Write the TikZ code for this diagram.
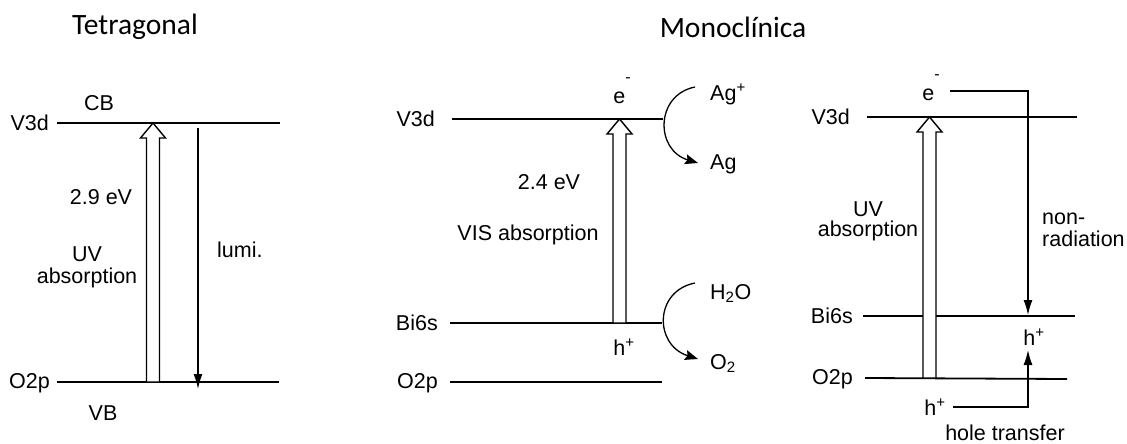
\documentclass[tikz,border=0pt]{standalone}
\usepackage{fontspec}
\setmainfont{Liberation Sans}
\newfontfamily\titlefont{Carlito}
\usepackage{tikz}
\usetikzlibrary{arrows.meta,calc}

% electron with a raised short dash
\newcommand{\eminus}{e\raisebox{0.95em}{\fontsize{16}{16}\selectfont -}}
% hollow absorption arrow from #1 (base) to #2 (tip)
\newcommand{\hollowarrow}[2]{%
	\draw[hollow] ($(#1)+(-6.5,0)$) -- ($(#2)+(-6.5,15)$) -- ($(#2)+(-12.5,15)$)
		-- (#2) -- ($(#2)+(12.5,15)$) -- ($(#2)+(6.5,15)$) -- ($(#1)+(6.5,0)$) -- cycle;}

\begin{document}
\begin{tikzpicture}[
		x=1pt, y=-1pt,
		>=Latex,
		level/.style={
			line width=1.8pt
		},
		lab/.style={
			font=\fontsize{21.5}{22}\selectfont,
			inner sep=0pt
		},
		title/.style={
			font=\titlefont\fontsize{29.5}{32}\selectfont,
			inner sep=0pt
		},
		hollow/.style={
			line width=1.4pt,
			fill=white,
			line join=miter
		},
		trans/.style={
			-{Latex[length=15pt,width=9pt]},
			line width=1.4pt
		},
		react/.style={
			-{Stealth[length=13pt,width=10pt,inset=2pt]},
			line width=1.3pt
		}
	]
	\useasboundingbox (0,0) rectangle (1127,444);
	
	% Titles
	\node[title] (tet) at (135,27) {Tetragonal};
	\node[title] (mono) at (733,27) {Monoclínica};
	
	% Tetragonal levels
	\coordinate (t-v3d-l) at (57,123);
	\coordinate (t-v3d-r) at (280,123);
	\coordinate (t-o2p-l) at (57,382);
	\coordinate (t-o2p-r) at (279,382);
	\draw[level] (t-v3d-l) -- (t-v3d-r);
	\draw[level] (t-o2p-l) -- (t-o2p-r);
	\node[lab, anchor=east] (t-v3d) at (49,123) {V3d};
	\node[lab, anchor=east] (t-o2p) at (50,383) {O2p};
	\node[lab] (t-cb) at (99,103) {CB};
	\node[lab] (t-vb) at (103,413) {VB};
	
	% Tetragonal transitions
	\coordinate (t-tip) at (153,123);
	\coordinate (t-base) at (153,382);
	\hollowarrow{t-base}{t-tip}
	\coordinate (t-lumi-top) at (198,128);
	\coordinate (t-lumi-end) at (198,389);
	\draw[trans] (t-lumi-top) -- (t-lumi-end);
	\node[lab, anchor=west] (t-lumi) at (217,250) {lumi.};
	\node[lab] (t-gap) at (101,197) {2.9 eV};
	\node[lab, align=center] (t-uv) at (87,267) {UV\\absorption};
	
	% Monoclinic (VIS) levels
	\coordinate (m-v3d-l) at (452,119);
	\coordinate (m-v3d-r) at (663,119);
	\coordinate (m-bi6s-l) at (450,323);
	\coordinate (m-bi6s-r) at (662,323);
	\coordinate (m-o2p-l) at (450,382);
	\coordinate (m-o2p-r) at (662,382);
	\draw[level] (m-v3d-l) -- (m-v3d-r);
	\draw[level] (m-bi6s-l) -- (m-bi6s-r);
	\draw[level] (m-o2p-l) -- (m-o2p-r);
	\node[lab, anchor=east] (m-v3d) at (435,119) {V3d};
	\node[lab, anchor=east] (m-bi6s) at (438,323) {Bi6s};
	\node[lab, anchor=east] (m-o2p) at (438,383) {O2p};
	
	% Monoclinic (VIS) transitions
	\coordinate (m-tip) at (619.5,119);
	\coordinate (m-base) at (619.5,323);
	\hollowarrow{m-base}{m-tip}
	\node[lab, anchor=base] (m-e) at (622,103) {\eminus};
	\node[lab, anchor=base] (m-h) at (624,355) {h\textsuperscript{+}};
	\node[lab] (m-gap) at (549,182) {2.4 eV};
	\node[lab] (m-vis) at (528,235) {VIS absorption};
	
	% Surface reactions
	\node[lab, anchor=base west] (agp) at (710,100) {Ag\textsuperscript{+}};
	\node[lab, anchor=base west] (ag) at (710,169) {Ag};
	\node[lab, anchor=base west] (h2o) at (710,299) {H\textsubscript{2}O};
	\node[lab, anchor=base west] (o2) at (710,369) {O\textsubscript{2}};
	\coordinate (ag-from) at (695,87);
	\coordinate (ag-to) at (698,163);
	\coordinate (o2-from) at (695,283);
	\coordinate (o2-to) at (698,359);
	\draw[react] (ag-from) .. controls (655,95) and (655,150) .. (ag-to);
	\draw[react] (o2-from) .. controls (654,291) and (654,345) .. (o2-to);
	
	% Monoclinic (UV) levels
	\coordinate (u-v3d-l) at (867,117);
	\coordinate (u-v3d-r) at (1077,117);
	\coordinate (u-bi6s-l) at (863,316);
	\coordinate (u-bi6s-r) at (1075,316);
	\coordinate (u-o2p-l) at (865,378);
	\coordinate (u-o2p-r) at (1067,379);
	\draw[level] (u-v3d-l) -- (u-v3d-r);
	\draw[level] (u-bi6s-l) -- (u-bi6s-r);
	\draw[level] (u-o2p-l) -- (u-o2p-r);
	\node[lab, anchor=east] (u-v3d) at (850,117) {V3d};
	\node[lab, anchor=east] (u-bi6s) at (853,316) {Bi6s};
	\node[lab, anchor=east] (u-o2p) at (853,379) {O2p};
	
	% Monoclinic (UV) transitions
	\coordinate (u-tip) at (929.5,117);
	\coordinate (u-base) at (929.5,378);
	\hollowarrow{u-base}{u-tip}
	\node[lab, align=center] (u-uv) at (868,221) {UV\\[-2pt]absorption};
	\node[lab, anchor=base] (u-e) at (931,100) {\eminus};
	\node[lab, anchor=base] (u-h1) at (1034,345) {h\textsuperscript{+}};
	\node[lab, anchor=base] (u-h2) at (935,415) {h\textsuperscript{+}};
	\coordinate (u-nr-start) at (950,91);
	\coordinate (u-nr-end) at (1028,315);
	\draw[trans] (u-nr-start) -| (u-nr-end);
	\node[lab, anchor=west, align=left] (u-nr) at (1042,230) {non-\\radiation};
	\coordinate (u-ht-start) at (953,407);
	\coordinate (u-ht-end) at (1028,350);
	\draw[trans] (u-ht-start) -| (u-ht-end);
	\node[lab] (u-ht) at (1005,433) {hole transfer};
	
\end{tikzpicture}
\end{document}
